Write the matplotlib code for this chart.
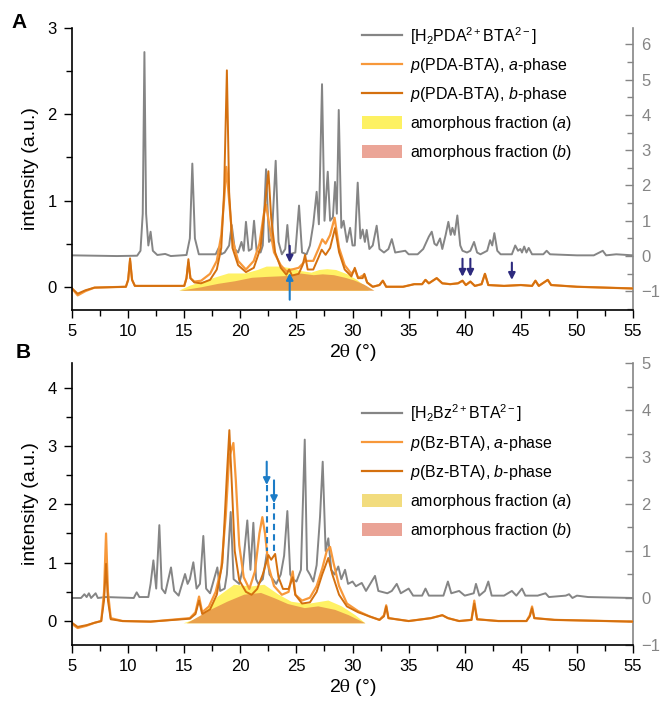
import numpy as np
import matplotlib
matplotlib.use("Agg")
import matplotlib.pyplot as plt
from matplotlib.lines import Line2D
from matplotlib.patches import Patch
from matplotlib.ticker import MultipleLocator

plt.rcParams['font.family'] = ['Liberation Sans', 'DejaVu Sans']
plt.rcParams['mathtext.fontset'] = 'custom'
plt.rcParams['mathtext.rm'] = 'Liberation Sans'
plt.rcParams['mathtext.it'] = 'Liberation Sans:italic'
plt.rcParams['mathtext.bf'] = 'Liberation Sans:bold'

#Panel A: [H2PDA2+BTA2-] salt (right axis)
saltA_x = [5.0, 9.0, 10.8, 11.1, 11.3, 11.45, 11.6, 11.8, 12.0, 12.2, 12.6, 13.3, 13.8, 15.2, 15.5, 15.72, 15.95, 16.3,
           17.8, 18.1, 18.3, 18.6, 19.0, 19.23, 19.5, 19.8, 20.1, 20.3, 20.5, 20.75, 21.0, 21.22, 21.45, 21.8, 22.0,
           22.29, 22.55, 22.8, 23.15, 23.4, 23.7, 24.0, 24.19, 24.4, 24.9, 25.23, 25.5, 25.9, 26.2, 26.5, 26.8, 27.0,
           27.28, 27.5, 27.79, 28.0, 28.25, 28.44, 28.6, 28.77, 29.0, 29.2, 29.5, 29.78, 30.0, 30.2, 30.46, 30.7,
           30.9, 31.1, 31.26, 31.5, 31.8, 32.15, 32.4, 32.8, 33.2, 33.5, 33.8, 34.7, 35.0, 35.8, 36.3, 36.8, 37.06,
           37.3, 37.5, 37.8, 38.0, 38.3, 38.54, 38.75, 38.9, 39.1, 39.34, 39.6, 39.8, 40.2, 40.5, 40.83, 41.1, 41.4,
           42.0, 42.26, 42.45, 42.64, 42.9, 43.2, 44.2, 44.5, 44.75, 44.96, 45.1, 45.3, 45.5, 45.7, 46.0, 47.0, 47.3,
           47.6, 50.0, 51.5, 52.0, 52.3, 52.6, 53.5, 55.0]
saltA_y = [0.02, 0.0, 0.01, 0.15, 1.2, 5.78, 1.2, 0.3, 0.69, 0.15, 0.03, 0.06, 0.0, 0.03, 0.5, 2.62, 0.5, 0.05,
           0.05, 0.25, 0.05, 0.1, 0.3, 0.88, 0.2, 0.1, 0.4, 0.15, 0.97, 0.15, 0.2, 1.0, 0.15, 0.1, 0.3,
           2.46, 0.4, 0.5, 2.7, 0.4, 0.05, 0.2, 0.88, 0.05, 0.1, 1.43, 0.1, 0.05, 0.3, 0.9, 1.82, 0.9,
           4.87, 1.0, 2.39, 1.0, 1.1, 2.1, 1.2, 4.14, 0.8, 1.0, 0.4, 0.8, 0.3, 0.3, 2.08, 0.5,
           0.75, 0.4, 0.74, 0.2, 0.3, 0.86, 0.2, 0.1, 0.2, 0.48, 0.1, 0.15, 0.05, 0.05, 0.2, 0.55, 0.69,
           0.35, 0.3, 0.5, 0.2, 0.6, 0.97, 0.6, 0.8, 0.6, 1.15, 0.3, 0.15, 0.1, 0.15, 0.4, 0.1, 0.05,
           0.15, 0.45, 0.3, 0.65, 0.15, 0.05, 0.05, 0.3, 0.15, 0.2, 0.1, 0.27, 0.1, 0.23, 0.05, 0.05, 0.15,
           0.05, 0.02, 0.02, 0.1, 0.15, 0.02, 0.05, 0.02]

#Panel A: p(PDA-BTA) b-phase (left axis)
pdaB_x = [5.0, 5.5, 6.2, 7.0, 9.8, 10.0, 10.17, 10.35, 10.6, 15.0, 15.2, 15.37, 15.55, 15.9, 16.5, 17.3, 17.9, 18.3,
          18.55, 18.8, 19.0, 19.3, 19.8, 20.5, 21.2, 21.8, 22.2, 22.5, 22.75, 23.1, 23.6, 24.1, 24.35, 24.6, 25.2,
          25.55, 25.77, 26.0, 26.5, 27.0, 27.25, 27.6, 28.0, 28.44, 28.8, 29.3, 29.9, 30.2, 30.5, 30.9, 31.05, 31.3,
          31.8, 32.4, 32.7, 33.0, 34.5, 35.5, 36.2, 36.5, 36.8, 37.5, 38.0, 38.7, 39.4, 39.8, 40.1, 40.5, 40.9,
          41.5, 41.8, 42.1, 43.5, 45.0, 46.0, 46.3, 46.6, 47.4, 47.7, 50.0, 55.0]
pdaB_y = [-0.02, -0.08, -0.04, -0.01, 0.0, 0.08, 0.33, 0.08, 0.01, 0.01, 0.1, 0.32, 0.1, 0.05, 0.04, 0.08, 0.2, 0.45,
          1.1, 2.51, 1.1, 0.45, 0.25, 0.17, 0.22, 0.45, 0.95, 1.34, 0.8, 0.4, 0.22, 0.14, 0.2, 0.13, 0.15,
          0.25, 0.37, 0.2, 0.2, 0.35, 0.43, 0.37, 0.45, 0.68, 0.4, 0.2, 0.12, 0.22, 0.1, 0.1, 0.15, 0.05,
          0.0, 0.02, 0.07, 0.0, 0.0, 0.03, 0.03, 0.08, 0.04, 0.1, 0.04, 0.03, 0.04, 0.07, 0.02, 0.06, 0.01,
          0.03, 0.15, 0.02, 0.01, 0.02, 0.01, 0.07, 0.01, 0.08, 0.02, 0.0, -0.02]

#Panel A: p(PDA-BTA) a-phase (left axis)
pdaA_x = [5.0, 5.5, 6.2, 7.0, 9.8, 10.0, 10.17, 10.35, 10.6, 15.0, 15.2, 15.37, 15.55, 15.9, 16.5, 17.3, 17.9, 18.3,
          18.55, 18.75, 19.0, 19.3, 19.8, 20.5, 21.2, 21.7, 22.1, 22.3, 22.6, 23.0, 23.6, 24.1, 24.6, 25.2, 25.8,
          26.5, 27.0, 27.3, 27.6, 28.0, 28.4, 28.8, 29.3, 29.9, 30.2, 30.5, 31.05, 31.3, 31.8, 32.4, 32.7, 33.0,
          34.5, 35.5, 36.2, 36.5, 36.8, 37.5, 38.0, 38.7, 39.4, 39.8, 40.1, 40.5, 40.9, 41.5, 41.8, 42.1, 43.5,
          45.0, 46.0, 46.3, 46.6, 47.4, 47.7, 50.0, 55.0]
pdaA_y = [-0.02, -0.1, -0.05, -0.01, 0.0, 0.08, 0.3, 0.08, 0.01, 0.01, 0.1, 0.28, 0.1, 0.06, 0.07, 0.15, 0.3, 0.6,
          1.0, 1.39, 1.0, 0.55, 0.3, 0.2, 0.3, 0.5, 0.85, 0.95, 0.7, 0.4, 0.25, 0.18, 0.2, 0.22, 0.3,
          0.3, 0.45, 0.55, 0.5, 0.6, 0.8, 0.45, 0.25, 0.15, 0.2, 0.1, 0.14, 0.05, 0.0, 0.02, 0.07, 0.0,
          0.0, 0.03, 0.03, 0.08, 0.04, 0.1, 0.04, 0.03, 0.04, 0.07, 0.02, 0.06, 0.01, 0.03, 0.15, 0.02, 0.01,
          0.02, 0.01, 0.07, 0.01, 0.08, 0.02, 0.0, -0.02]

#Panel A amorphous humps
amA_a_x = [14.5, 15.5, 16.5, 17.4, 18.9, 20.4, 21.5, 22.3, 23.5, 24.5, 25.3, 26.3, 27.0, 27.7, 28.5, 29.5, 30.3, 31.0, 31.4]
amA_a_y = [-0.04, 0.02, 0.06, 0.1, 0.16, 0.16, 0.2, 0.24, 0.24, 0.22, 0.19, 0.17, 0.2, 0.21, 0.2, 0.15, 0.09, 0.02, -0.04]
amA_b_x = [14.6, 16.5, 18.0, 19.5, 21.0, 22.3, 24.1, 25.3, 26.5, 27.3, 28.3, 29.3, 30.1, 31.0, 31.9]
amA_b_y = [-0.04, 0.0, 0.04, 0.07, 0.11, 0.12, 0.13, 0.16, 0.14, 0.15, 0.14, 0.11, 0.08, 0.03, -0.04]

#Panel A arrows: navy (down) and blue (up)
navy_x = [24.4, 39.8, 40.5, 44.2]
navy_top = [0.475, 0.325, 0.325, 0.28]
navy_tip = [0.28, 0.116, 0.116, 0.08]
blueA_x = 24.4
blueA_from, blueA_tip = -0.15, 0.16

#Panel B: [H2Bz2+BTA2-] salt (right axis)
saltB_x = [5.0, 5.8, 6.1, 6.3, 6.5, 6.7, 7.1, 7.3, 8.0, 10.5, 10.76, 11.0, 11.8, 12.0, 12.25, 12.5, 12.78, 13.0, 13.3,
           13.82, 14.1, 14.5, 15.07, 15.3, 15.5, 15.81, 16.1, 16.4, 16.7, 16.95, 17.3, 17.95, 18.2, 18.6, 18.8, 19.14,
           19.4, 19.9, 20.2, 20.62, 20.9, 21.16, 21.4, 21.6, 22.0, 22.35, 22.6, 22.9, 23.2, 23.6, 23.9, 24.19, 24.45,
           24.7, 25.0, 25.4, 25.74, 25.95, 26.2, 26.5, 26.8, 27.1, 27.34, 27.6, 27.84, 28.1, 28.4, 28.73, 29.0, 29.33,
           29.6, 30.0, 30.3, 30.82, 31.2, 32.0, 32.3, 33.1, 33.5, 33.94, 34.3, 35.0, 35.4, 36.2, 36.5, 36.8, 38.1,
           38.5, 38.8, 39.5, 40.0, 40.8, 41.0, 41.3, 41.8, 42.1, 42.4, 43.5, 44.2, 44.6, 45.1, 45.4, 46.5, 47.2,
           47.5, 49.0, 49.3, 49.6, 50.0, 51.0, 55.0]
saltB_y = [0.0, 0.0, 0.08, 0.02, 0.1, 0.0, 0.1, 0.0, 0.02, 0.0, 0.12, 0.02, 0.02, 0.3, 0.8, 0.2, 1.55, 0.2, 0.1,
           0.65, 0.15, 0.05, 0.51, 0.3, 0.4, 0.76, 0.2, 0.3, 1.32, 0.2, 0.1, 0.65, 0.15, 0.2, 0.5, 1.83,
           0.4, 0.3, 0.6, 1.65, 0.6, 1.6, 0.4, 0.3, 0.4, 0.94, 0.5, 0.4, 0.3, 0.5, 0.9, 1.85, 0.5,
           0.4, 0.35, 0.6, 3.37, 0.6, 0.5, 0.35, 0.7, 1.72, 2.9, 1.0, 1.27, 0.6, 0.5, 0.67, 0.4, 0.6,
           0.3, 0.35, 0.25, 0.32, 0.15, 0.47, 0.15, 0.1, 0.15, 0.3, 0.1, 0.2, 0.05, 0.05, 0.2, 0.05, 0.05,
           0.35, 0.1, 0.15, 0.05, 0.1, 0.3, 0.05, 0.15, 0.35, 0.05, 0.05, 0.15, 0.05, 0.2, 0.05, 0.05, 0.1,
           0.02, 0.05, 0.08, 0.0, 0.05, 0.02, 0.0]

#Panel B: p(Bz-BTA) a-phase (left axis)
bzA_x = [5.0, 5.5, 6.3, 7.0, 7.6, 7.85, 8.03, 8.2, 8.45, 9.5, 12.0, 15.5, 16.0, 16.32, 16.6, 17.2, 17.8, 18.3, 18.7,
         19.0, 19.38, 19.6, 19.9, 20.3, 20.8, 21.3, 21.7, 21.96, 22.2, 22.5, 23.0, 23.7, 24.3, 24.67, 24.9, 25.5,
         26.2, 26.8, 27.3, 27.7, 28.0, 28.3, 28.8, 29.5, 30.5, 31.5, 32.4, 32.8, 33.0, 33.2, 35.0, 37.0, 38.0,
         38.5, 39.5, 40.6, 40.85, 41.1, 43.0, 45.5, 45.8, 46.0, 46.2, 48.0, 55.0]
bzA_y = [-0.05, -0.12, -0.08, -0.03, 0.0, 0.5, 1.5, 0.5, 0.05, 0.0, -0.01, 0.05, 0.15, 0.42, 0.15, 0.25, 0.5, 0.9, 1.8,
         2.8, 3.05, 2.4, 1.3, 0.75, 0.55, 0.85, 1.5, 1.78, 1.5, 0.95, 0.6, 0.45, 0.5, 0.85, 0.45, 0.35,
         0.4, 0.6, 0.9, 1.2, 1.27, 1.0, 0.6, 0.3, 0.17, 0.08, 0.02, 0.1, 0.27, 0.05, 0.0, 0.05, 0.1,
         0.05, 0.0, 0.02, 0.35, 0.03, 0.0, 0.0, 0.1, 0.25, 0.05, 0.02, -0.01]

#Panel B: p(Bz-BTA) b-phase (left axis)
bzB_x = [5.0, 5.5, 6.3, 7.0, 7.6, 7.85, 8.03, 8.2, 8.45, 9.5, 12.0, 15.5, 16.0, 16.32, 16.6, 17.3, 17.9, 18.4, 18.8,
         19.02, 19.25, 19.5, 19.9, 20.5, 21.0, 21.5, 22.0, 22.5, 22.75, 23.1, 23.4, 23.8, 24.3, 24.67, 24.9, 25.5,
         26.2, 26.8, 27.3, 27.84, 28.2, 28.8, 29.5, 30.5, 31.5, 32.4, 32.8, 33.0, 33.2, 35.0, 37.0, 38.0, 38.5,
         39.5, 40.6, 40.85, 41.1, 43.0, 45.5, 45.8, 46.0, 46.2, 48.0, 55.0]
bzB_y = [-0.03, -0.1, -0.07, -0.03, 0.0, 0.35, 0.98, 0.35, 0.03, 0.0, -0.01, 0.04, 0.12, 0.35, 0.12, 0.2, 0.45, 1.0, 2.5,
         3.27, 2.3, 1.2, 0.7, 0.5, 0.45, 0.55, 0.8, 1.13, 1.05, 1.15, 0.75, 0.55, 0.55, 0.75, 0.45, 0.3,
         0.32, 0.5, 0.8, 1.08, 0.8, 0.45, 0.25, 0.15, 0.08, 0.02, 0.08, 0.25, 0.05, 0.0, 0.05, 0.1, 0.05,
         0.0, 0.02, 0.3, 0.03, 0.0, 0.0, 0.08, 0.22, 0.05, 0.02, -0.01]

#Panel B amorphous humps
amB_a_x = [14.9, 16.4, 17.9, 19.4, 20.9, 22.1, 23.3, 24.5, 25.9, 27.8, 29.0, 30.2, 31.1]
amB_a_y = [-0.03, 0.07, 0.42, 0.63, 0.6, 0.63, 0.47, 0.34, 0.3, 0.36, 0.26, 0.11, -0.03]
amB_b_x = [15.2, 17.3, 18.8, 20.3, 21.8, 23.0, 24.2, 25.7, 26.9, 28.4, 29.6, 31.1]
amB_b_y = [-0.03, 0.2, 0.34, 0.46, 0.49, 0.4, 0.3, 0.23, 0.26, 0.2, 0.11, -0.03]

#Panel B dashed arrows
dash_x = [22.35, 23.0]
dash_top = [2.73, 2.41]
dash_head = [2.33, 2.02]
dash_end = [1.2, 1.13]

c_salt = "#858585"
c_a = "#F7983A"
c_b = "#D4700F"
c_fill_a = "#FFF164"
c_fill_b = "#E9A04C"

fig = plt.figure(figsize=(6.61, 7.09), dpi=100)
axA = fig.add_axes([0.109, 0.5627, 0.8487, 0.3977])
axB = fig.add_axes([0.109, 0.0903, 0.8487, 0.3977])


def style(ax, axr, ylim, ylim_r):
    ax.set_xlim(5, 55)
    ax.set_ylim(*ylim)
    axr.set_ylim(*ylim_r)
    ax.xaxis.set_major_locator(MultipleLocator(5))
    ax.xaxis.set_minor_locator(MultipleLocator(2.5))
    ax.yaxis.set_major_locator(MultipleLocator(1))
    ax.yaxis.set_minor_locator(MultipleLocator(0.5))
    axr.yaxis.set_major_locator(MultipleLocator(1))
    axr.yaxis.set_minor_locator(MultipleLocator(0.5))
    ax.tick_params(axis='both', which='both', direction='out', width=1, labelsize=12, pad=4)
    ax.tick_params(which='major', length=6)
    ax.tick_params(which='minor', length=4)
    ax.tick_params(axis='y', pad=5)
    axr.tick_params(axis='y', which='both', direction='in', color=c_salt, labelcolor=c_salt,
                    labelsize=12, width=1, pad=6)
    axr.tick_params(which='major', length=6)
    axr.tick_params(which='minor', length=4)
    ax.spines['top'].set_visible(False)
    ax.spines['right'].set_visible(False)
    for s in ['top', 'left', 'bottom']:
        axr.spines[s].set_visible(False)
    axr.spines['right'].set_color(c_salt)
    axr.spines['right'].set_linewidth(1.2)
    ax.spines['left'].set_linewidth(1.2)
    ax.spines['bottom'].set_linewidth(1.2)
    ax.set_ylabel("intensity (a.u.)", fontsize=14, labelpad=6)
    ax.set_xlabel("2$\\mathrm{\\theta}$ (°)", fontsize=14, math_fontfamily='stix', labelpad=2)
    #gray trace behind the orange ones
    axr.set_zorder(ax.get_zorder() - 1)
    ax.patch.set_visible(False)


#Panel A
axA_r = axA.twinx()
axA.fill_between(amA_a_x, -0.04, amA_a_y, color=c_fill_a, lw=0)
axA.fill_between(amA_b_x, -0.04, amA_b_y, color=c_fill_b, lw=0)
axA_r.plot(saltA_x, saltA_y, color=c_salt, lw=1.4)
axA.plot(pdaA_x, pdaA_y, color=c_a, lw=1.6)
axA.plot(pdaB_x, pdaB_y, color=c_b, lw=1.4)
for x, y0, y1 in zip(navy_x, navy_top, navy_tip):
    axA.annotate("", xy=(x, y1), xytext=(x, y0),
                 arrowprops=dict(arrowstyle="-|>", color="#2D2A7E", lw=1.5, mutation_scale=10, shrinkA=0, shrinkB=0))
axA.annotate("", xy=(blueA_x, blueA_tip), xytext=(blueA_x, blueA_from), annotation_clip=False,
             arrowprops=dict(arrowstyle="-|>", color="#1C7CC7", lw=1.5, mutation_scale=10, shrinkA=0, shrinkB=0))
style(axA, axA_r, (-0.27, 3.0), (-1.53, 6.46))

#Panel B
axB_r = axB.twinx()
axB.fill_between(amB_a_x, -0.03, amB_a_y, color=c_fill_a, lw=0)
axB.fill_between(amB_b_x, -0.03, amB_b_y, color=c_fill_b, lw=0)
axB_r.plot(saltB_x, saltB_y, color=c_salt, lw=1.4)
axB.plot(bzA_x, bzA_y, color=c_a, lw=1.6)
axB.plot(bzB_x, bzB_y, color=c_b, lw=1.4)
for x, y0, yh, y1 in zip(dash_x, dash_top, dash_head, dash_end):
    axB.annotate("", xy=(x, yh), xytext=(x, y0),
                 arrowprops=dict(arrowstyle="-|>", color="#1C7CC7", lw=1.5, mutation_scale=10, shrinkA=0, shrinkB=0))
    axB.plot([x, x], [yh, y1], color="#1C7CC7", lw=1.5, ls=(0, (3, 2)))
style(axB, axB_r, (-0.41, 4.42), (-1.0, 5.0))

#Legends
def legend(ax, names, y, fill_cols):
    handles = [Line2D([], [], color=c_salt, lw=1.6),
               Line2D([], [], color=c_a, lw=1.6),
               Line2D([], [], color=c_b, lw=1.6),
               Patch(color=fill_cols[0], lw=0),
               Patch(color=fill_cols[1], lw=0)]
    ax.legend(handles, names, loc='upper left', bbox_to_anchor=(0.548, y), bbox_transform=fig.transFigure,
              frameon=False, fontsize=11.5, handlelength=2.5, handleheight=0.9, handletextpad=0.5,
              labelspacing=0.62, borderaxespad=0, borderpad=0)

legend(axA, ["[H$_2$PDA$^{2+}$BTA$^{2-}$]",
             "$p$(PDA-BTA), $a$-phase",
             "$p$(PDA-BTA), $b$-phase",
             "amorphous fraction ($a$)",
             "amorphous fraction ($b$)"], 0.965, ["#FDF162", "#EBA597"])
legend(axB, ["[H$_2$Bz$^{2+}$BTA$^{2-}$]",
             "$p$(Bz-BTA), $a$-phase",
             "$p$(Bz-BTA), $b$-phase",
             "amorphous fraction ($a$)",
             "amorphous fraction ($b$)"], 0.432, ["#F2DC7E", "#EAA396"])

fig.text(0.018, 0.968, "A", fontsize=15, fontweight='bold', va='center')
fig.text(0.024, 0.503, "B", fontsize=15, fontweight='bold', va='center')

fig.savefig("out.png", dpi=100)
